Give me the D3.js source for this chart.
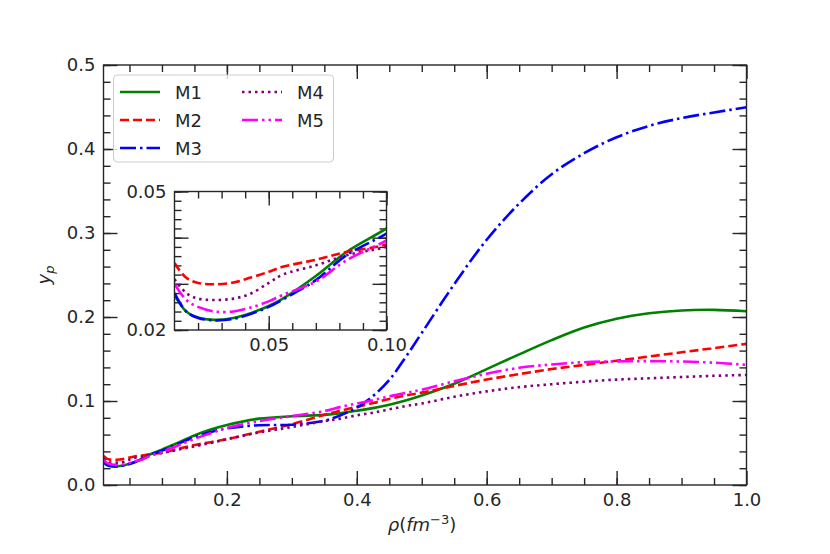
<!DOCTYPE html>
<html>
<head>
<meta charset="utf-8">
<script src="https://cdn.jsdelivr.net/npm/d3@7"></script>
<style>
  body { margin: 0; background: #fff; }
  text { font-family: "DejaVu Sans", sans-serif; fill: #262626; }
  .axis line { stroke: #262626; stroke-width: 1.4; }
  .axis path { display: none; }
</style>
</head>
<body>
<svg id="chart" width="830" height="554"></svg>
<script>
// density grid (fm^-3) shared by all models
const rho = [0.01, 0.015, 0.02, 0.027, 0.035, 0.042, 0.05, 0.056, 0.07, 0.083, 0.1,
  0.125, 0.15, 0.175, 0.2, 0.25, 0.3, 0.35, 0.375, 0.4, 0.425, 0.45, 0.475, 0.5,
  0.55, 0.6, 0.65, 0.7, 0.75, 0.8, 0.85, 0.9, 0.95, 1.0];

// proton fraction y_p for each model
const m1 = [0.0275, 0.0240, 0.0227, 0.0222, 0.0226, 0.0236, 0.0252, 0.0268, 0.0317, 0.0369, 0.0420,
  0.0505, 0.0590, 0.0660, 0.0715, 0.0790, 0.0818, 0.0835, 0.0855, 0.0885, 0.0915, 0.0955, 0.1005, 0.1065,
  0.1205, 0.1380, 0.1555, 0.1725, 0.1875, 0.1980, 0.2045, 0.2078, 0.2085, 0.2068];
const m2 = [0.0345, 0.0313, 0.0302, 0.0299, 0.0303, 0.0313, 0.0326, 0.0337, 0.0352, 0.0369, 0.0385,
  0.0430, 0.0475, 0.0510, 0.0545, 0.0635, 0.0725, 0.0835, 0.0885, 0.0930, 0.0975, 0.1025, 0.1065, 0.1100,
  0.1180, 0.1255, 0.1320, 0.1380, 0.1430, 0.1480, 0.1530, 0.1580, 0.1630, 0.1680];
const m3 = [0.0280, 0.0240, 0.0226, 0.0221, 0.0224, 0.0234, 0.0250, 0.0266, 0.0308, 0.0362, 0.0409,
  0.0490, 0.0570, 0.0630, 0.0675, 0.0712, 0.0718, 0.0765, 0.0830, 0.0920, 0.1060, 0.1250, 0.1520, 0.1810,
  0.2390, 0.2920, 0.3350, 0.3700, 0.3950, 0.4140, 0.4275, 0.4368, 0.4435, 0.4496];
const m4 = [0.0310, 0.0280, 0.0268, 0.0265, 0.0268, 0.0278, 0.0302, 0.0320, 0.0340, 0.0362, 0.0380,
  0.0420, 0.0460, 0.0500, 0.0545, 0.0625, 0.0690, 0.0760, 0.0790, 0.0830, 0.0860, 0.0900, 0.0940, 0.0970,
  0.1050, 0.1115, 0.1165, 0.1200, 0.1230, 0.1255, 0.1270, 0.1285, 0.1300, 0.1310];
const m5 = [0.0300, 0.0265, 0.0250, 0.0240, 0.0240, 0.0248, 0.0262, 0.0276, 0.0305, 0.0351, 0.0394,
  0.0470, 0.0550, 0.0615, 0.0680, 0.0760, 0.0820, 0.0880, 0.0930, 0.0970, 0.1010, 0.1055, 0.1095, 0.1135,
  0.1235, 0.1325, 0.1395, 0.1435, 0.1462, 0.1472, 0.1475, 0.1470, 0.1456, 0.1430];

const labels = ["M1", "M2", "M3", "M4", "M5"];
const colors = ["green", "red", "blue", "purple", "magenta"];

const series = [m1, m2, m3, m4, m5];
const dashes = [null, "9,4", "16,4,2.5,4", "2.5,4", "16,4,2.5,4,2.5,4"];

const svg = d3.select("#chart");
const FS = "18px";

// ---- main axes ----
const W = {left: 103.5, right: 746.5, top: 65, bottom: 485};
const x = d3.scaleLinear().domain([0.01, 1.0]).range([W.left, W.right]);
const y = d3.scaleLinear().domain([0, 0.5]).range([W.bottom, W.top]);

// minor ticks, then major ticks (inward) with optional labels
function ticksAxis(g, axisFn, scale, major, minor, fmt, size, showLabels) {
  g.call(axisFn(scale).tickValues(minor).tickSize(-size / 2).tickFormat(""));
  g.append("g").call(axisFn(scale).tickValues(major).tickSize(-size).tickPadding(8)
    .tickFormat(showLabels ? fmt : () => ""));
  g.attr("class", "axis").selectAll("text").style("font-size", FS);
}

const xMajor = [0.2, 0.4, 0.6, 0.8, 1.0];
const xMinor = d3.range(1, 20).map(i => i * 0.05);
const yMajor = [0, 0.1, 0.2, 0.3, 0.4, 0.5];
const yMinor = d3.range(0, 26).map(i => i * 0.02);
const f1 = d3.format(".1f");

ticksAxis(svg.append("g").attr("transform", `translate(0,${W.bottom})`), d3.axisBottom, x, xMajor, xMinor, f1, 14, true);
ticksAxis(svg.append("g").attr("transform", `translate(0,${W.top})`), d3.axisTop, x, xMajor, xMinor, f1, 14, false);
ticksAxis(svg.append("g").attr("transform", `translate(${W.left},0)`), d3.axisLeft, y, yMajor, yMinor, f1, 14, true);
ticksAxis(svg.append("g").attr("transform", `translate(${W.right},0)`), d3.axisRight, y, yMajor, yMinor, f1, 14, false);

svg.append("defs").append("clipPath").attr("id", "clipMain")
  .append("rect").attr("x", W.left).attr("y", W.top)
  .attr("width", W.right - W.left).attr("height", W.bottom - W.top);

const line = d3.line().curve(d3.curveCatmullRom.alpha(0.5))
  .x((d, i) => x(rho[i])).y(d => y(d));

svg.append("g").attr("clip-path", "url(#clipMain)")
  .selectAll("path").data(series).join("path")
  .attr("d", line)
  .attr("fill", "none")
  .attr("stroke", (d, i) => colors[i])
  .attr("stroke-width", 2.6)
  .attr("stroke-dasharray", (d, i) => dashes[i]);

svg.append("rect").attr("x", W.left).attr("y", W.top)
  .attr("width", W.right - W.left).attr("height", W.bottom - W.top)
  .attr("fill", "none").attr("stroke", "#262626").attr("stroke-width", 1.4);

// axis labels
const xl = svg.append("text").attr("x", 422).attr("y", 531)
  .attr("text-anchor", "middle").style("font-size", FS);
xl.append("tspan").style("font-style", "italic").text("ρ");
xl.append("tspan").text("(");
xl.append("tspan").style("font-style", "italic").text("fm");
xl.append("tspan").attr("dy", -7).style("font-size", "13px").text("−3");
xl.append("tspan").attr("dy", 7).text(")");

const yl = svg.append("text").attr("transform", `translate(50,${(W.top + W.bottom) / 2}) rotate(-90)`)
  .attr("text-anchor", "middle").style("font-size", FS);
yl.append("tspan").style("font-style", "italic").text("y");
yl.append("tspan").attr("dy", 4).style("font-style", "italic").style("font-size", "13px").text("p");

// ---- legend ----
const lg = svg.append("g");
lg.append("rect").attr("x", 113.5).attr("y", 75).attr("width", 220).attr("height", 87)
  .attr("rx", 4).attr("fill", "#fff").attr("fill-opacity", 0.8)
  .attr("stroke", "#cccccc").attr("stroke-width", 1);
labels.forEach((lab, i) => {
  const col = Math.floor(i / 3), row = i % 3;
  const lx = 120 + col * 122, ly = 92 + row * 28;
  lg.append("line").attr("x1", lx).attr("x2", lx + 40).attr("y1", ly).attr("y2", ly)
    .attr("stroke", colors[i]).attr("stroke-width", 2.6).attr("stroke-dasharray", dashes[i]);
  lg.append("text").attr("x", lx + 55).attr("y", ly + 6.5).style("font-size", FS).text(lab);
});

// ---- inset ----
const I = {left: 174.5, right: 386.5, top: 191.5, bottom: 330};
const xi = d3.scaleLinear().domain([0.01, 0.1]).range([I.left, I.right]);
const yi = d3.scaleLinear().domain([0.02, 0.05]).range([I.bottom, I.top]);

svg.append("rect").attr("x", I.left).attr("y", I.top)
  .attr("width", I.right - I.left).attr("height", I.bottom - I.top).attr("fill", "#fff");

const xiMajor = [0.05, 0.1];
const xiMinor = d3.range(1, 10).map(i => +(0.01 * (i + 1)).toFixed(3));
const yiMajor = [0.02, 0.03, 0.04, 0.05];
const yiMinor = d3.range(0, 16).map(i => +(0.02 + i * 0.002).toFixed(3));
const f2 = d3.format(".2f");
const fy = d => (d === 0.02 || d === 0.05) ? f2(d) : "";

ticksAxis(svg.append("g").attr("transform", `translate(0,${I.bottom})`), d3.axisBottom, xi, xiMajor, xiMinor, f2, 14, true);
ticksAxis(svg.append("g").attr("transform", `translate(0,${I.top})`), d3.axisTop, xi, xiMajor, xiMinor, f2, 14, false);
ticksAxis(svg.append("g").attr("transform", `translate(${I.left},0)`), d3.axisLeft, yi, yiMajor, yiMinor, fy, 14, true);
ticksAxis(svg.append("g").attr("transform", `translate(${I.right},0)`), d3.axisRight, yi, yiMajor, yiMinor, fy, 14, false);

svg.select("defs").append("clipPath").attr("id", "clipInset")
  .append("rect").attr("x", I.left).attr("y", I.top)
  .attr("width", I.right - I.left).attr("height", I.bottom - I.top);

const lineI = d3.line().curve(d3.curveCatmullRom.alpha(0.5))
  .x((d, i) => xi(rho[i])).y(d => yi(d));

svg.append("g").attr("clip-path", "url(#clipInset)")
  .selectAll("path").data(series).join("path")
  .attr("d", lineI)
  .attr("fill", "none")
  .attr("stroke", (d, i) => colors[i])
  .attr("stroke-width", 2.6)
  .attr("stroke-dasharray", (d, i) => dashes[i]);

svg.append("rect").attr("x", I.left).attr("y", I.top)
  .attr("width", I.right - I.left).attr("height", I.bottom - I.top)
  .attr("fill", "none").attr("stroke", "#262626").attr("stroke-width", 1.4);
</script>
</body>
</html>
